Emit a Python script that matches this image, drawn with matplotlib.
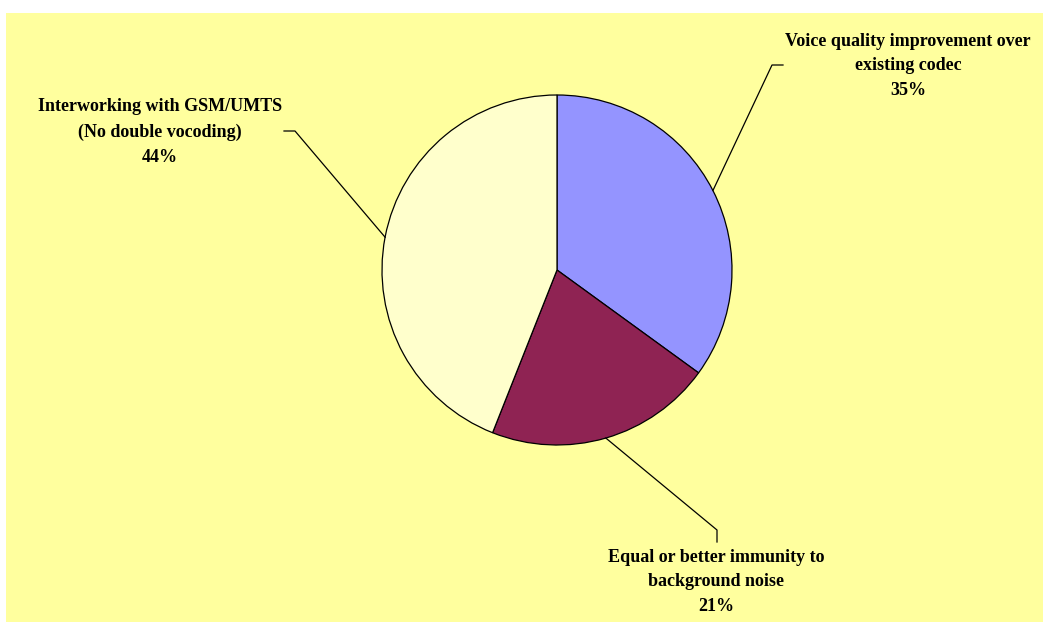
import matplotlib.pyplot as plt
import numpy as np

labels = ["Voice quality improvement over\nexisting codec",
          "Equal or better immunity to\nbackground noise",
          "Interworking with GSM/UMTS\n(No double vocoding)"]
shares = [35, 21, 44]
colors = ["#9494FF", "#8F2353", "#FFFFCC"]

# label centre (pixels, y down) and leader elbow points
text_pos = [(908, 66), (716, 582), (160, 132)]
elbows = [[(772, 65), (783, 65)],
          [(717, 530), (717, 542)],
          [(295, 131), (284, 131)]]

W, H = 1043, 627
fig = plt.figure(figsize=(W / 100, H / 100), dpi=100)
fig.patch.set_facecolor("white")
ax = fig.add_axes([0, 0, 1, 1])

ax.add_patch(plt.Rectangle((6, H - 622), W - 6, 622 - 13, facecolor="#FFFF9E",
                           edgecolor="none", zorder=0))

cx, cy, r = 557, H - 270, 175
wedges, _ = ax.pie(shares, colors=colors, startangle=90, counterclock=False,
                   center=(cx, cy), radius=r, frame=True,
                   wedgeprops=dict(edgecolor="black", linewidth=0.9))
ax.set_xlim(0, W)
ax.set_ylim(0, H)
ax.axis("off")

for w, lab, share, tp, el in zip(wedges, labels, shares, text_pos, elbows):
    mid = np.deg2rad((w.theta1 + w.theta2) / 2)
    x0 = cx + r * np.cos(mid)
    y0 = cy + r * np.sin(mid)
    xs = [x0] + [p[0] for p in el]
    ys = [y0] + [H - p[1] for p in el]
    ax.plot(xs, ys, color="black", linewidth=0.9)
    ax.text(tp[0], H - tp[1], lab + "\n" + str(share) + "%", ha="center", va="center",
            fontsize=13, fontweight="bold", family="Liberation Serif",
            linespacing=1.6)

fig.savefig("out.png", dpi=100)
